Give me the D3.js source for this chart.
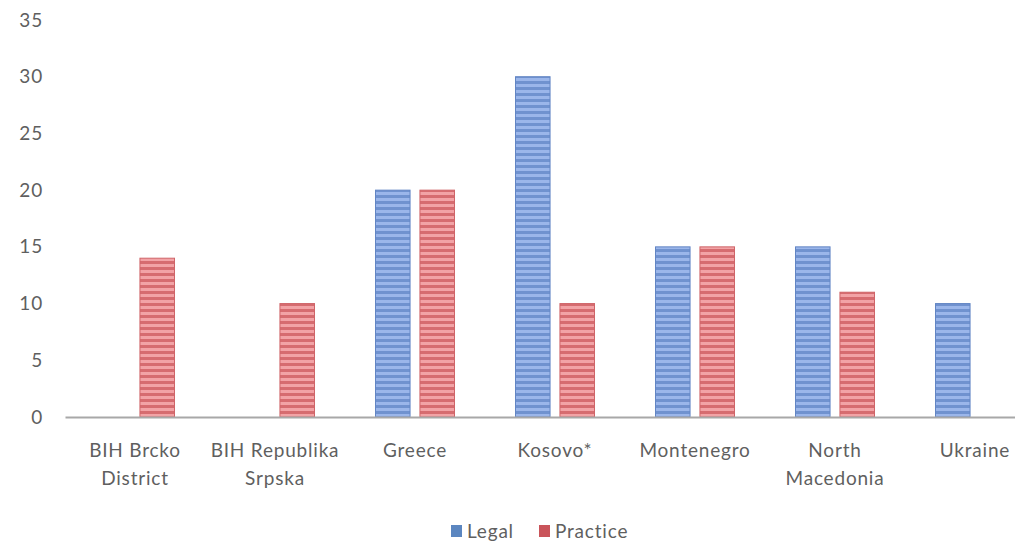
<!DOCTYPE html>
<html>
<head>
<meta charset="utf-8">
<script src="https://cdn.jsdelivr.net/npm/d3@7"></script>
<style>
  html, body { margin: 0; padding: 0; background: #fff; }
  svg { display: block; }
  text { font-family: Lato, "Noto Sans", sans-serif; fill: #5f5f5f; letter-spacing: 0.8px; }
</style>
</head>
<body>
<svg id="chart" width="1015" height="542"></svg>
<script>
// Categories (multi-line labels use "\n")
const categories = ["BIH Brcko\nDistrict", "BIH Republika\nSrpska", "Greece", "Kosovo*", "Montenegro", "North\nMacedonia", "Ukraine"];
const seriesNames = ["Legal", "Practice"];
const legalValues = [null, null, 20, 30, 15, 15, 10];
const practiceValues = [14, 10, 20, 10, 15, 11, null];
const yTicks = [0, 5, 10, 15, 20, 25, 30, 35];

const svg = d3.select("#chart");
const W = 1015;

// stripe patterns for the bar fills
const defs = svg.append("defs");
function stripes(id, dark, light) {
  const p = defs.append("pattern")
    .attr("id", id)
    .attr("patternUnits", "userSpaceOnUse")
    .attr("width", 10).attr("height", 6);
  p.append("rect").attr("width", 10).attr("height", 6).attr("fill", light);
  p.append("rect").attr("y", 3).attr("width", 10).attr("height", 3).attr("fill", dark);
}
stripes("stripeBlue", "#7092cf", "#9bb6ea");
stripes("stripeRed", "#d66c70", "#f2a3a6");

const styles = [
  { fill: "url(#stripeBlue)", stroke: "#6285c4", legend: "#5b86c0" },
  { fill: "url(#stripeRed)", stroke: "#cf6468", legend: "#c9545a" }
];

const x = d3.scaleBand().domain(categories).range([65, 1045]).paddingInner(0).paddingOuter(0);
const y = d3.scaleLinear().domain([0, 35]).range([417, 20]);
const sub = d3.scaleBand().domain(seriesNames).range([0, 80]).paddingInner(0.2);

// y axis labels (no axis line, no ticks)
const yAxis = svg.append("g").attr("transform", "translate(43,0)")
  .call(d3.axisLeft(y).tickValues(yTicks).tickSize(0).tickPadding(0));
yAxis.select(".domain").remove();
yAxis.selectAll("text").attr("font-size", 19).attr("fill", "#5f5f5f")
  .style("font-family", "Lato, 'Noto Sans', sans-serif");

// bars
const data = [legalValues, practiceValues];
data.forEach((vals, si) => {
  svg.append("g").selectAll("rect")
    .data(categories.map((c, i) => ({ c, v: vals[i] })).filter(d => d.v != null))
    .join("rect")
    .attr("x", d => x(d.c) + x.bandwidth() / 2 - 40 + sub(seriesNames[si]) + 0.5)
    .attr("y", d => y(d.v))
    .attr("width", sub.bandwidth() - 1)
    .attr("height", d => y(0) - y(d.v))
    .attr("fill", styles[si].fill)
    .attr("stroke", styles[si].stroke)
    .attr("stroke-width", 1);
});

// x axis baseline
const xAxis = svg.append("g").attr("transform", `translate(0,${y(0)})`)
  .call(d3.axisBottom(x).tickSize(0).tickFormat(""));
xAxis.select(".domain").attr("stroke", "#a8a8a8").attr("stroke-width", 2);

// category labels
categories.forEach(c => {
  const lines = c.split("\n");
  const t = svg.append("text")
    .attr("x", x(c) + x.bandwidth() / 2)
    .attr("y", 457)
    .attr("text-anchor", "middle")
    .attr("font-size", 19);
  lines.forEach((ln, i) => {
    t.append("tspan").attr("x", x(c) + x.bandwidth() / 2).attr("dy", i === 0 ? 0 : 28).text(ln);
  });
});

// legend
const legend = svg.append("g");
const legendItems = [
  { name: seriesNames[0], x: 451, color: styles[0].legend },
  { name: seriesNames[1], x: 539, color: styles[1].legend }
];
legendItems.forEach(it => {
  legend.append("rect").attr("x", it.x).attr("y", 525).attr("width", 11).attr("height", 12).attr("fill", it.color);
  legend.append("text").attr("x", it.x + 16).attr("y", 538).attr("font-size", 19).text(it.name);
});
</script>
</body>
</html>
